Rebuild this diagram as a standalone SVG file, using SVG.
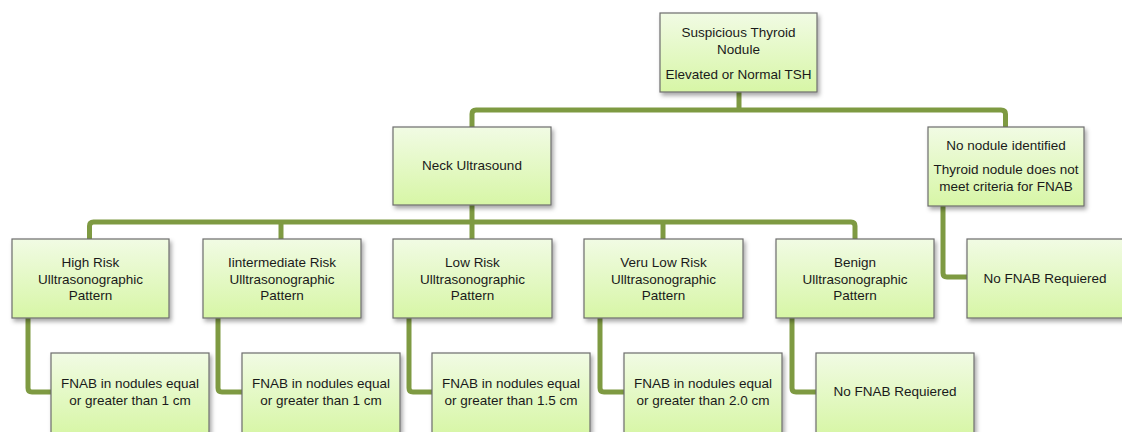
<svg xmlns="http://www.w3.org/2000/svg" width="1122" height="432" viewBox="0 0 1122 432">
<defs>
<linearGradient id="g" x1="0" y1="0" x2="0" y2="1">
<stop offset="0" stop-color="#f1fbe4"/>
<stop offset="1" stop-color="#d7f6a6"/>
</linearGradient>
<filter id="sh" x="-10%" y="-10%" width="130%" height="140%">
<feDropShadow dx="2" dy="3" stdDeviation="2" flood-color="#000" flood-opacity="0.35"/>
</filter>
</defs>
<style>
.box{fill:url(#g);stroke:#6d6d6d;stroke-width:1.2;filter:url(#sh)}
.c{fill:none;stroke:#7e9a42;stroke-width:5;stroke-linejoin:round;stroke-linecap:butt}
text{font-family:"Liberation Sans",Arial,sans-serif;font-size:13.5px;fill:#1a1a1a;text-anchor:middle}
</style>
<rect width="1122" height="432" fill="#fff"/>
<g id="connectors">
<path class="c" d="M739,92 V110"/>
<path class="c" d="M472,127 V114 Q472,110 476,110 H1001 Q1005.5,110 1005.5,114 V127"/>
<path class="c" d="M472,205 V222"/>
<path class="c" d="M89.5,239 V226 Q89.5,222 93.5,222 H851 Q855,222 855,226 V239"/>
<path class="c" d="M281,222 V239"/>
<path class="c" d="M472,222 V239"/>
<path class="c" d="M663,222 V239"/>
<path class="c" d="M28,318 V388 Q28,392 32,392 H51"/>
<path class="c" d="M218,318 V388 Q218,392 222,392 H242"/>
<path class="c" d="M409,318 V388 Q409,392 413,392 H432"/>
<path class="c" d="M600,318 V388 Q600,392 604,392 H624"/>
<path class="c" d="M792,318 V388 Q792,392 796,392 H816"/>
<path class="c" d="M943,206 V273 Q943,277 947,277 H967"/>
</g>
<g id="n-top"><rect class="box" x="660" y="13" width="157" height="79"/>
<text x="738.5" y="36.5">Suspicious Thyroid</text><text x="738.5" y="54">Nodule</text><text x="738.5" y="78.5">Elevated or Normal TSH</text></g>
<g id="n-neck"><rect class="box" x="393" y="127" width="158" height="78"/>
<text x="472" y="170">Neck Ultrasound</text></g>
<g id="n-nonodule"><rect class="box" x="928" y="127" width="156" height="79"/>
<text x="1006" y="150">No nodule identified</text><text x="1006" y="174">Thyroid nodule does not</text><text x="1006" y="191">meet criteria for FNAB</text></g>
<g id="n-nofnab-r"><rect class="box" x="967" y="239" width="158" height="79"/>
<text x="1045" y="282.5">No FNAB Requiered</text></g>
<g id="n-high"><rect class="box" x="12" y="239" width="157" height="79"/>
<text x="90.5" y="266.5">High Risk</text><text x="90.5" y="283.5">Ulltrasonographic</text><text x="90.5" y="300">Pattern</text></g>
<g id="n-inter"><rect class="box" x="203" y="239" width="158" height="79"/>
<text x="282" y="266.5">Iintermediate Risk</text><text x="282" y="283.5">Ulltrasonographic</text><text x="282" y="300">Pattern</text></g>
<g id="n-low"><rect class="box" x="393" y="239" width="159" height="79"/>
<text x="472.5" y="266.5">Low Risk</text><text x="472.5" y="283.5">Ulltrasonographic</text><text x="472.5" y="300">Pattern</text></g>
<g id="n-verylow"><rect class="box" x="584" y="239" width="159" height="79"/>
<text x="663.5" y="266.5">Veru Low Risk</text><text x="663.5" y="283.5">Ulltrasonographic</text><text x="663.5" y="300">Pattern</text></g>
<g id="n-benign"><rect class="box" x="776" y="239" width="158" height="79"/>
<text x="855" y="266.5">Benign</text><text x="855" y="283.5">Ulltrasonographic</text><text x="855" y="300">Pattern</text></g>
<g id="c-high"><rect class="box" x="51" y="353" width="158" height="82"/>
<text x="130" y="387.5">FNAB in nodules equal</text><text x="130" y="405">or greater than 1 cm</text></g>
<g id="c-inter"><rect class="box" x="242" y="353" width="158" height="82"/>
<text x="321" y="387.5">FNAB in nodules equal</text><text x="321" y="405">or greater than 1 cm</text></g>
<g id="c-low"><rect class="box" x="432" y="353" width="158" height="82"/>
<text x="511" y="387.5">FNAB in nodules equal</text><text x="511" y="405">or greater than 1.5 cm</text></g>
<g id="c-verylow"><rect class="box" x="624" y="353" width="158" height="82"/>
<text x="703" y="387.5">FNAB in nodules equal</text><text x="703" y="405">or greater than 2.0 cm</text></g>
<g id="c-benign"><rect class="box" x="816" y="353" width="158" height="82"/>
<text x="895" y="395.5">No FNAB Requiered</text></g>
</svg>
